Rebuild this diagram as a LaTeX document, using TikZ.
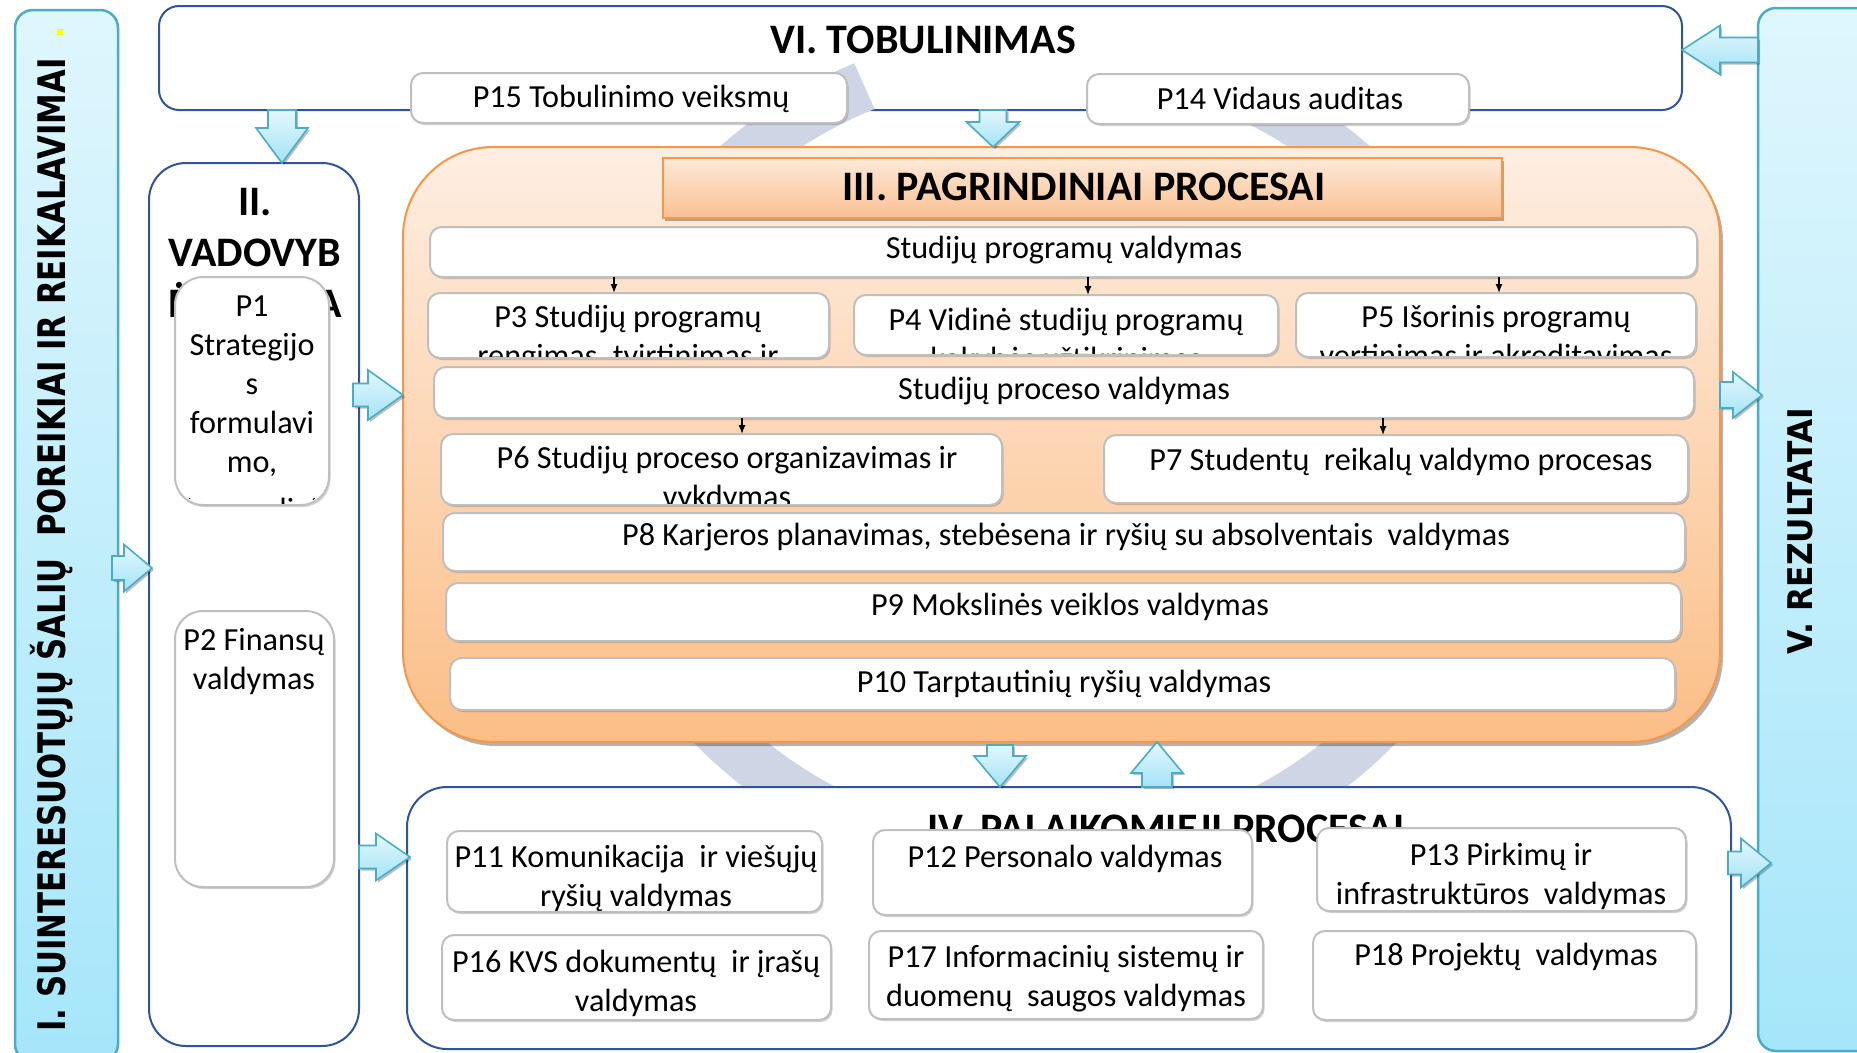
\documentclass[tikz,border=0pt]{standalone}
\usepackage{fontspec}
\setmainfont{Carlito}
\newfontfamily\barfont{DejaVu Sans}
\usetikzlibrary{calc,fit,shadows,arrows.meta}
\definecolor{dblue}{HTML}{2F5597}
\definecolor{tealb}{HTML}{4BACC6}
\definecolor{gbord}{HTML}{BFBFBF}
\definecolor{orb}{HTML}{F79646}
\definecolor{bandc}{HTML}{CED6E6}
\definecolor{cyanlt}{HTML}{E3F7FD}
\definecolor{cyandk}{HTML}{A3E3F7}
\definecolor{barlt}{HTML}{DFF6FD}
\definecolor{bardk}{HTML}{A6E6FA}
\definecolor{orlt}{HTML}{FEEEE2}
\definecolor{ordk}{HTML}{FBBE87}
\definecolor{ttllt}{HTML}{FDE9D9}
\definecolor{ttldk}{HTML}{FAC090}
\definecolor{yel}{HTML}{FFFF00}

\newcommand\bodyfont{\fontsize{32.2bp}{39bp}\selectfont}
\newcommand\ttlfont{\fontsize{42bp}{51bp}\selectfont\bfseries}
\newcommand\lines[1]{\begin{tabular}[t]{@{}c@{}}#1\end{tabular}}

\tikzset{
  pb/.style={draw=gbord, line width=2bp, fill=white, rounded corners=12bp, inner sep=0pt, outer sep=0pt,
    drop shadow={shadow xshift=1.5bp, shadow yshift=-2bp, fill=black, opacity=0.18}},
  bigb/.style={draw=dblue, line width=2bp, fill=white, inner sep=0pt, outer sep=0pt},
  sidebar/.style={draw=tealb, line width=2.5bp, top color=barlt, bottom color=bardk, rounded corners=18bp, inner sep=0pt, outer sep=0pt},
  barrow/.style={draw=tealb, line width=1.6bp, top color=cyanlt, bottom color=cyandk,
    drop shadow={shadow xshift=2bp, shadow yshift=-2bp, fill=black, opacity=0.25}},
  txt/.style={font=\bodyfont, inner sep=0pt, anchor=base},
  ttl/.style={font=\ttlfont, inner sep=0pt, anchor=base},
  sarr/.style={-{Latex[length=9bp,width=7bp]}, line width=1.3bp, black},
}

% block arrow: tail, tip, shaft half width, head half width, head length
\newcommand\blockarrow[5]{%
  \coordinate (ba-t) at #1;
  \coordinate (ba-p) at #2;
  \coordinate (ba-h) at ($(ba-p)!#5!(ba-t)$);
  \draw[barrow] ($(ba-t)!#3!90:(ba-p)$) -- ($(ba-h)!#3!-90:(ba-t)$) -- ($(ba-h)!#4!-90:(ba-t)$) -- (ba-p)
     -- ($(ba-h)!#4!90:(ba-t)$) -- ($(ba-h)!#3!90:(ba-t)$) -- ($(ba-t)!#3!-90:(ba-p)$) -- cycle;
}

% process box: name, x1, y1, x2, y2, text x, first baseline, text
\newcommand\pbox[8]{%
  \node[pb, fit={(#2,#3) (#4,#5)}] (#1) {};
  \begin{scope}
    \clip[rounded corners=12bp] ([shift={(2bp,2bp)}]#1.south west) rectangle ([shift={(-2bp,-2bp)}]#1.north east);
    \node[txt] (#1-t) at (#6,#7) {\lines{#8}};
  \end{scope}
}

\begin{document}
\begin{tikzpicture}[x=1bp,y=-1bp]
\useasboundingbox (0,0) rectangle (1857,1052);
\fill[white] (0,0) rectangle (1857,1052);

% side bars
\node[sidebar, fit={(15,10) (118,1062)}] (ibar) {};
\node[sidebar, fit={(1758,8) (1900,1051)}] (vbar) {};
\node[rotate=90, anchor=base, inner sep=0pt, font=\barfont\bfseries\fontsize{38bp}{40bp}\selectfont] (ibar-t) at (65,545)
  {\scalebox{0.81}[1]{I. SUINTERESUOTŲJŲ ŠALIŲ\ \ POREIKIAI IR REIKALAVIMAI}};
\fill[yel] (57,29) rectangle (63,35);
\node[rotate=90, anchor=base, inner sep=0pt, font=\barfont\bfseries\fontsize{34bp}{36bp}\selectfont] (vbar-t) at (1812,531)
  {\scalebox{0.92}[1]{V. REZULTATAI}};

% VI box
\node[bigb, rounded corners=20bp, fit={(159,6) (1682,110)}] (vi) {};
\node[ttl] (vi-t) at (923,53) {VI. TOBULINIMAS};

% background cycle band
\fill[bandc] plot[domain=114:422, samples=160] ({1045+469*cos(\x)},{457-431*sin(\x)})
  -- plot[domain=422:114, samples=160] ({1045+419*cos(\x)},{457-381*sin(\x)}) -- cycle;

\pbox{p15}{411}{73}{847}{123}{631}{107}{P15 Tobulinimo veiksmų}
\pbox{p14}{1087}{74}{1469}{124}{1280}{109}{P14 Vidaus auditas}

% II box
\node[bigb, rounded corners=37bp, fit={(149,163) (359,1046)}] (ii) {};
\node[ttl] (ii-t) at (255,215) {\begin{tabular}[t]{@{}c@{}}II.\\VADOVYB\\Ė\hspace{128bp}A\end{tabular}};
\node[pb, rounded corners=28bp, fit={(175,277) (329,505)}] (p1) {};
\begin{scope}
  \clip[rounded corners=28bp] ([shift={(2bp,2bp)}]p1.south west) rectangle ([shift={(-2bp,-2bp)}]p1.north east);
  \node[txt] (p1-t) at (252,316) {\lines{P1\\Strategijo\\s\\formulavi\\mo,\\[9bp]įgyvendini}};
\end{scope}
\node[pb, rounded corners=28bp, fit={(175,611) (334,887)}] (p2) {};
\node[txt] (p2-t) at (254,650) {\lines{P2 Finansų\\valdymas}};

% III box
\node[draw=orb, line width=2bp, top color=orlt, bottom color=ordk, rounded corners=90bp, inner sep=0pt, outer sep=0pt,
  fit={(403,147) (1720,742)}, drop shadow={shadow xshift=3bp, shadow yshift=-4bp, fill=black, opacity=0.3}] (iii) {};
\node[draw=orb, line width=2bp, top color=ttllt, bottom color=ttldk, inner sep=0pt, outer sep=0pt,
  fit={(663,158) (1502,218)}, drop shadow={shadow xshift=2bp, shadow yshift=-3bp, fill=black, opacity=0.3}] (iiittl) {};
\node[ttl] (iii-t) at (1084,200) {III. PAGRINDINIAI PROCESAI};

\pbox{spv}{430}{227}{1697}{277}{1064}{258}{Studijų programų valdymas}
\pbox{p3}{428}{293}{829}{358}{628}{327}{P3 Studijų programų\\rengimas, tvirtinimas ir}
\pbox{p4}{854}{295}{1278}{355}{1066}{330}{P4 Vidinė studijų programų\\kokybės užtikrinimas}
\pbox{p5}{1296}{293}{1696}{357}{1496}{327}{P5 Išorinis programų\\vertinimas ir akreditavimas}
\pbox{spr}{434}{367}{1694}{418}{1064}{399}{Studijų proceso valdymas}
\pbox{p6}{441}{434}{1002}{505}{727}{468}{P6 Studijų proceso organizavimas ir\\vykdymas}
\pbox{p7}{1104}{435}{1688}{503}{1401}{470}{P7 Studentų\ \ reikalų valdymo procesas}
\pbox{p8}{443}{513}{1685}{571}{1066}{545}{P8 Karjeros planavimas, stebėsena ir ryšių su absolventais\ \ valdymas}
\pbox{p9}{446}{583}{1681}{641}{1070}{615}{P9 Mokslinės veiklos valdymas}
\pbox{p10}{450}{658}{1675}{710}{1064}{692}{P10 Tarptautinių ryšių valdymas}

\path (614,0) coordinate (sx1) (1088,0) coordinate (sx2) (1499,0) coordinate (sx3)
      (742,0) coordinate (sx4) (1383,0) coordinate (sx5);
\draw[sarr] (sx1 |- spv.south) -- (sx1 |- p3.north);
\draw[sarr] (sx2 |- spv.south) -- (sx2 |- p4.north);
\draw[sarr] (sx3 |- spv.south) -- (sx3 |- p5.north);
\draw[sarr] (sx4 |- spr.south) -- (sx4 |- p6.north);
\draw[sarr] (sx5 |- spr.south) -- (sx5 |- p7.north);

% IV box
\node[bigb, rounded corners=40bp, fit={(407,787) (1731,1049)}] (iv) {};
\node[ttl] (iv-t) at (1166,842) {IV. PALAIKOMIEJI PROCESAI};
\pbox{p11}{447}{831}{822}{912}{636}{867}{P11 Komunikacija\ \ ir viešųjų\\ryšių valdymas}
\pbox{p12}{873}{830}{1252}{915}{1065}{867}{P12 Personalo valdymas}
\pbox{p13}{1317}{828}{1686}{911}{1501}{865}{P13 Pirkimų ir\\infrastruktūros\ \ valdymas}
\pbox{p16}{442}{935}{831}{1020}{636}{972}{P16 KVS dokumentų\ \ ir įrašų\\valdymas}
\pbox{p17}{869}{931}{1263}{1019}{1066}{967}{P17 Informacinių sistemų ir\\duomenų\ \ saugos valdymas}
\pbox{p18}{1313}{931}{1696}{1020}{1506}{965}{P18 Projektų\ \ valdymas}

% block arrows
\path (282,0) coordinate (ax1) (993,0) coordinate (ax2) (1000,0) coordinate (ax8) (1157,0) coordinate (ax9)
      (0,50) coordinate (ay3) (0,568) coordinate (ay4) (0,395) coordinate (ay5) (0,857) coordinate (ay6)
      (0,395) coordinate (ay7) (0,863) coordinate (ay10);
\blockarrow{(ax1 |- vi.south)}{(ax1 |- ii.north)}{14bp}{26bp}{35bp}
\blockarrow{(ax2 |- vi.south)}{(ax2 |- iii.north)}{13.5bp}{26.5bp}{25bp}
\blockarrow{(vbar.west |- ay3)}{(vi.east |- ay3)}{12.5bp}{24.5bp}{38bp}
\blockarrow{($(ibar.east |- ay4)+(-6bp,0bp)$)}{($(ii.west |- ay4)+(3bp,0bp)$)}{12bp}{23.5bp}{28bp}
\blockarrow{($(ii.east |- ay5)+(-6bp,0bp)$)}{(iii.west |- ay5)}{11.5bp}{25bp}{35bp}
\blockarrow{(ii.east |- ay6)}{($(iv.west |- ay6)+(3bp,0bp)$)}{11.5bp}{23.5bp}{34bp}
\blockarrow{(iii.east |- ay7)}{($(vbar.west |- ay7)+(4bp,0bp)$)}{13bp}{23bp}{29bp}
\blockarrow{($(ax8 |- iii.south)+(0bp,-3bp)$)}{(ax8 |- iv.north)}{13bp}{26bp}{31bp}
\blockarrow{(ax9 |- iv.north)}{(ax9 |- iii.south)}{15bp}{26bp}{31bp}
\blockarrow{($(iv.east |- ay10)+(-3bp,0bp)$)}{($(vbar.west |- ay10)+(13bp,0bp)$)}{11.5bp}{24.5bp}{30bp}
\end{tikzpicture}
\end{document}
